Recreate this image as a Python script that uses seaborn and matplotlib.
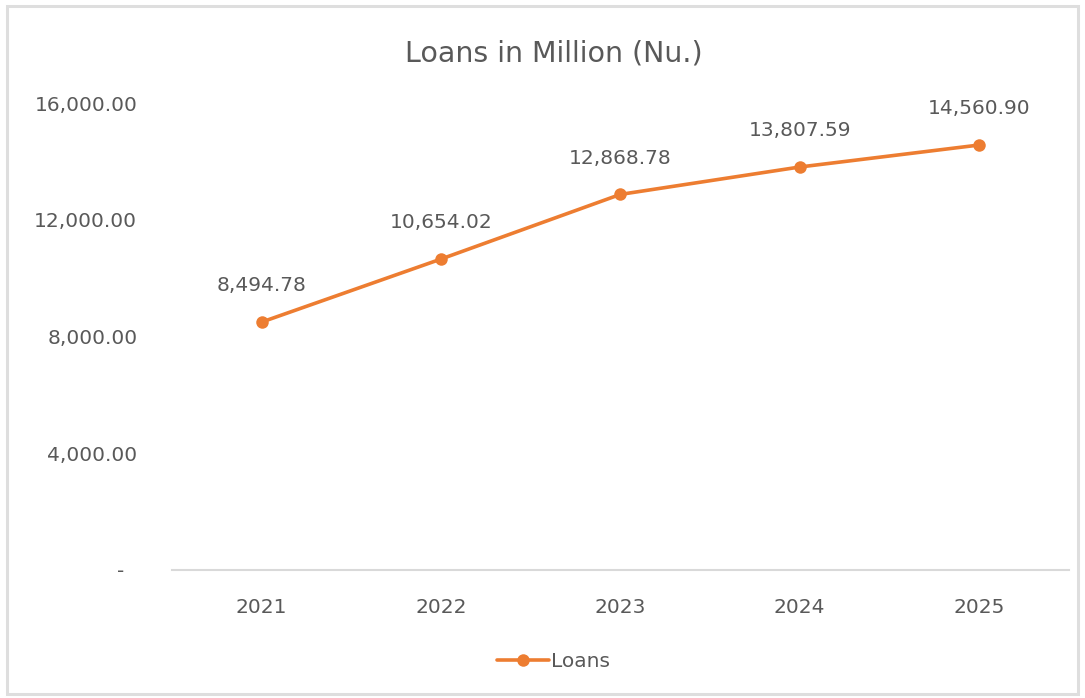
import matplotlib
matplotlib.use("Agg")
import matplotlib.pyplot as plt
import seaborn as sns
import pandas as pd
from matplotlib.ticker import FuncFormatter
from matplotlib.patches import Rectangle

years = ["2021", "2022", "2023", "2024", "2025"]
loans = [8494.78, 10654.02, 12868.78, 13807.59, 14560.90]
yticks = [0, 4000, 8000, 12000, 16000]
title = "Loans in Million (Nu.)"
series_name = "Loans"

sns.set_theme(style="white")
plt.rcParams["font.family"] = ["DejaVu Sans"]

TXT = "#595959"
ORANGE = "#ED7D31"

fig = plt.figure(figsize=(10.85, 6.98), dpi=100)
fig.patches.append(Rectangle((0.006, 0.006), 0.988, 0.985, transform=fig.transFigure,
                             fill=False, edgecolor="#DEDEDE", linewidth=2.2))
ax = fig.add_axes([0.1585, 0.1834, 0.8265, 0.669])

df = pd.DataFrame({"Year": years, "Value": loans})
sns.lineplot(data=df, x="Year", y="Value", ax=ax, color=ORANGE, linewidth=2.6,
             marker="o", markersize=9, markeredgewidth=0, label=series_name, sort=False)

ax.set_xlim(-0.5, len(years) - 0.5)
ax.set_ylim(0, 16000)
ax.set_yticks(yticks)
ax.yaxis.set_major_formatter(FuncFormatter(lambda v, p: "-  " if v == 0 else f"{v:,.2f}"))
ax.tick_params(axis="y", length=0, pad=25, labelsize=14.5, labelcolor=TXT)
ax.tick_params(axis="x", length=0, pad=20, labelsize=14.5, labelcolor=TXT)
ax.set_xlabel("")
ax.set_ylabel("")
for s in ["top", "right", "left"]:
    ax.spines[s].set_visible(False)
ax.spines["bottom"].set_color("#D9D9D9")
ax.spines["bottom"].set_linewidth(1.5)

for i, v in enumerate(loans):
    ax.annotate(f"{v:,.2f}", (i, v), xytext=(0, 26), textcoords="offset points",
                ha="center", va="center", fontsize=14.5, color=TXT)

fig.text(0.51, 0.924, title, ha="center", va="center", fontsize=20.5, color=TXT)

leg = ax.legend(loc="center", frameon=False, fontsize=14.5, handlelength=2.6,
                handletextpad=0.1)
leg.set_bbox_to_anchor((0.51, 0.052), transform=fig.transFigure)
for t in leg.get_texts():
    t.set_color(TXT)

fig.savefig("out.png", dpi=100, facecolor="white")
